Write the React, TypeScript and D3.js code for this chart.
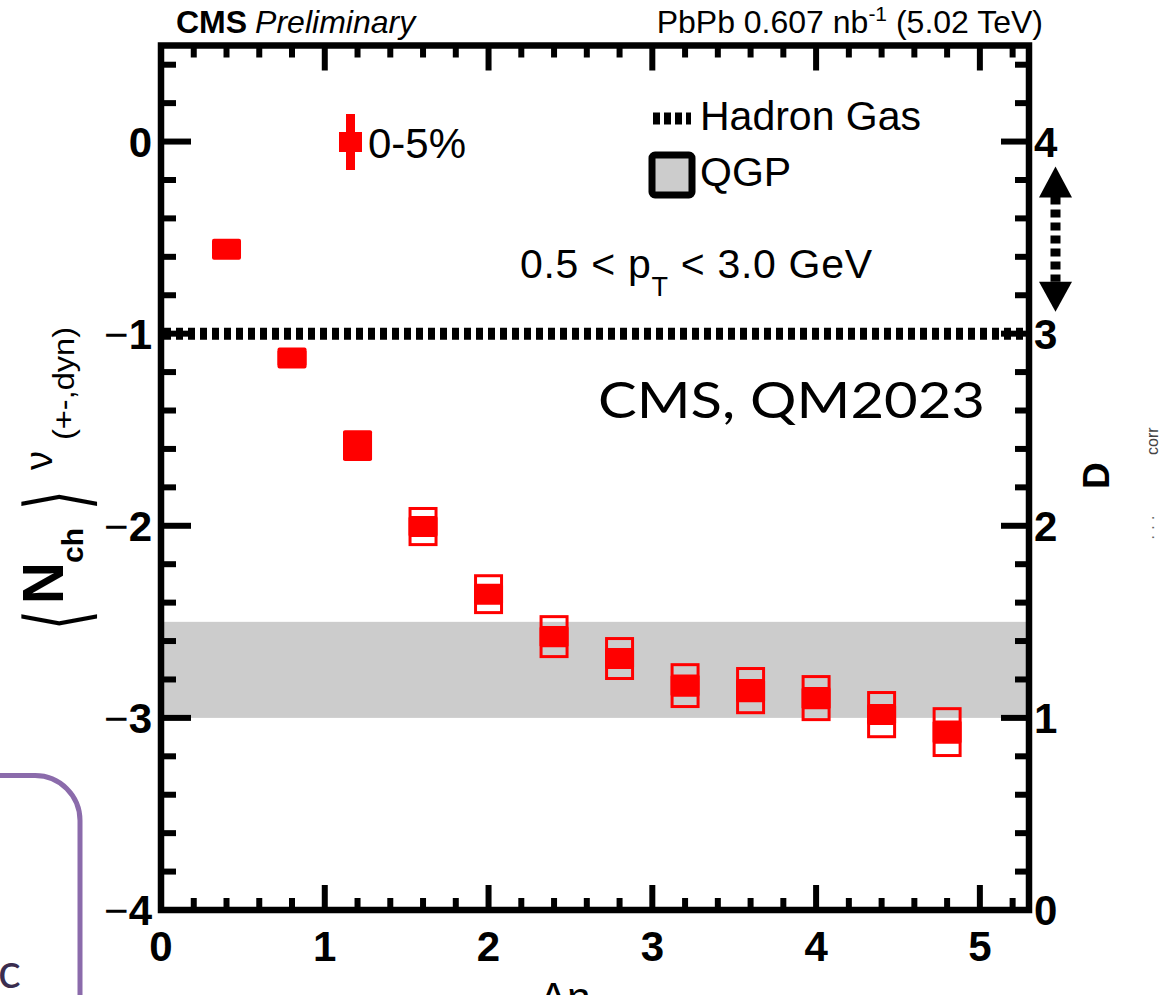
import React from 'react';
import * as d3 from 'd3';

const W = 1168;
const H = 995;

// data
const deltaEta = [0.4, 0.8, 1.2, 1.6, 2.0, 2.4, 2.8, 3.2, 3.6, 4.0, 4.4, 4.8];
const nuDyn = [-0.56, -1.127, -1.583, -2.004, -2.356, -2.577, -2.691, -2.832, -2.858, -2.897, -2.983, -3.074];
const statErr = [0.05, 0.05, 0.08, 0.05, 0.052, 0.055, 0.055, 0.058, 0.06, 0.058, 0.053, 0.06];
const sysErr = [0.03, 0.03, 0.066, 0.094, 0.096, 0.104, 0.104, 0.109, 0.115, 0.112, 0.115, 0.122];
const hadronGasValue = -1;
const qgpBand = [-3.0, -2.5];
const arrowRangeD = [3.0, 4.0];

const xTickValues = [0, 1, 2, 3, 4, 5];
const xTickLabels = ['0', '1', '2', '3', '4', '5'];
const yTickValues = [-4, -3, -2, -1, 0];
const yTickLabels = ['4', '3', '2', '1', '0'];
const dTickValues = [0, 1, 2, 3, 4];
const dTickLabels = ['0', '1', '2', '3', '4'];

const FONT = "'Liberation Sans', Arial, Helvetica, sans-serif";
const RED = '#ff0000';

export default function App() {
  const x = d3.scaleLinear().domain([0, 5.3]).range([161, 1029]);
  const y = d3.scaleLinear().domain([-4, 0.5]).range([910, 45.5]);
  const yD = d3.scaleLinear().domain([0, 4.5]).range([910, 45.5]);

  const x0 = x(0), x1 = x(5.3), yTop = y(0.5), yBot = y(-4);
  const isMajor = (v: number) => Math.abs(v - Math.round(v)) < 1e-6;
  const xMinor = d3.range(0, 5.25, 0.2);
  const yMinor = d3.range(-4, 0.45, 0.2);
  const dMinor = d3.range(0, 4.45, 0.2);
  const k = y(0) - y(1);

  // double arrow between D=3 and D=4
  const ax = 1055.5;
  const aTop = yD(arrowRangeD[1]) + 25;
  const aBot = yD(arrowRangeD[0]) - 22;

  return (
    <svg width={W} height={H} style={{ position: 'absolute', left: 0, top: 0, background: '#fff' }} fontFamily={FONT}>
      <rect x={0} y={0} width={W} height={H} fill="#fff" />
      {/* header */}
      <text x={176} y={33} fontSize={32} fill="#000">
        <tspan fontWeight="bold">CMS</tspan>
        <tspan dx={8} fontStyle="italic">Preliminary</tspan>
      </text>
      <text x={1043} y={33} fontSize={32} textAnchor="end" fill="#000">
        PbPb 0.607 nb<tspan dy={-12} fontSize={21}>-1</tspan><tspan dy={12}> (5.02 TeV)</tspan>
      </text>

      {/* QGP band */}
      <rect x={x0} y={y(qgpBand[1])} width={x1 - x0} height={y(qgpBand[0]) - y(qgpBand[1])} fill="#cccccc" />
      {/* Hadron gas line */}
      <line x1={x0 + 3} x2={x1} y1={y(hadronGasValue)} y2={y(hadronGasValue)} stroke="#000" strokeWidth={12} strokeDasharray="7 5" />

      {/* data */}
      {deltaEta.map((d, i) => {
        const cx = x(d);
        const cy = y(nuDyn[i]);
        const sTop = y(nuDyn[i] + sysErr[i]);
        const sBot = y(nuDyn[i] - sysErr[i]);
        const mh = Math.max(21, 2 * statErr[i] * k);
        return (
          <g key={i}>
            <rect x={cx - 13} y={sTop} width={26} height={sBot - sTop} fill="none" stroke={RED} strokeWidth={3} />
            <rect x={cx - 14.5} y={cy - mh / 2} width={29} height={mh} fill={RED} rx={2} />
          </g>
        );
      })}

      {/* ticks */}
      {xMinor.map((v, i) => {
        const len = isMajor(v) ? 25 : 12;
        return (
          <g key={'xt' + i}>
            <line x1={x(v)} x2={x(v)} y1={yBot} y2={yBot - len} stroke="#000" strokeWidth={6} />
            <line x1={x(v)} x2={x(v)} y1={yTop} y2={yTop + len} stroke="#000" strokeWidth={6} />
          </g>
        );
      })}
      {yMinor.map((v, i) => {
        const len = isMajor(v) ? 30 : 15;
        return <line key={'yt' + i} x1={x0} x2={x0 + len} y1={y(v)} y2={y(v)} stroke="#000" strokeWidth={6} />;
      })}
      {dMinor.map((v, i) => {
        const len = isMajor(v) ? 28 : 14;
        return <line key={'dt' + i} x1={x1} x2={x1 - len} y1={yD(v)} y2={yD(v)} stroke="#000" strokeWidth={6} />;
      })}
      {/* frame */}
      <rect x={x0} y={yTop} width={x1 - x0} height={yBot - yTop} fill="none" stroke="#000" strokeWidth={6.5} />

      {/* tick labels */}
      {xTickValues.map((v, i) => (
        <text key={'xl' + i} x={x(v)} y={961} fontSize={42} fontWeight="bold" textAnchor="middle">{xTickLabels[i]}</text>
      ))}
      {yTickValues.map((v, i) => (
        <text key={'yl' + i} x={152} y={y(v) + 15} fontSize={42} fontWeight="bold" textAnchor="end">
          {v < 0 ? <tspan fontWeight="normal">{'\u2212'}</tspan> : null}{yTickLabels[i]}
        </text>
      ))}
      {dTickValues.map((v, i) => (
        <text key={'dl' + i} x={1034} y={yD(v) + 15} fontSize={42} fontWeight="bold" textAnchor="start">{dTickLabels[i]}</text>
      ))}

      {/* dotted double arrow on the D axis */}
      <line x1={ax} x2={ax} y1={aTop + 30} y2={aBot - 30} stroke="#000" strokeWidth={10} strokeDasharray="8 5" />
      <path d={`M${ax},${aTop} L${ax + 16.5},${aTop + 31} L${ax - 16.5},${aTop + 31} Z`} fill="#000" />
      <path d={`M${ax},${aBot} L${ax + 16.5},${aBot - 30} L${ax - 16.5},${aBot - 30} Z`} fill="#000" />

      {/* legend */}
      <line x1={350.5} x2={350.5} y1={114} y2={170} stroke={RED} strokeWidth={9} />
      <rect x={339} y={132} width={23} height={20} fill={RED} />
      <text x={368} y={158} fontSize={42}>0-5%</text>
      <line x1={653} x2={691} y1={118.5} y2={118.5} stroke="#000" strokeWidth={12} strokeDasharray="7 4" />
      <text x={700} y={130} fontSize={41}>Hadron Gas</text>
      <rect x={652} y={155} width={40} height={40} rx={3} fill="#cccccc" stroke="#000" strokeWidth={7} />
      <text x={700} y={186} fontSize={41}>QGP</text>
      <text x={520} y={278} fontSize={41} textLength={352} lengthAdjust="spacing">
        0.5 &lt; p<tspan dy={18} fontSize={27}>T</tspan><tspan dy={-18}> &lt; 3.0 GeV</tspan>
      </text>
      <text x={598} y={418} fontSize={50} fontFamily="Lato, 'Open Sans', sans-serif" textLength={387} lengthAdjust="spacingAndGlyphs">CMS, QM2023</text>

      {/* y title */}
      <text transform="translate(86,630) rotate(-90) scale(0.6,1)" fontSize={85} fontFamily="'DejaVu Sans', sans-serif">⟨</text>
      <text transform="translate(63,604) rotate(-90)" fontSize={58} fontWeight="bold">N</text>
      <text transform="translate(83,563) rotate(-90)" fontSize={30} fontWeight="bold">ch</text>
      <text transform="translate(86,510) rotate(-90) scale(0.6,1)" fontSize={85} fontFamily="'DejaVu Sans', sans-serif">⟩</text>
      <text transform="translate(52,470) rotate(-90)" fontSize={38}>ν</text>
      <text transform="translate(74,440) rotate(-90)" fontSize={30} textLength={113} lengthAdjust="spacingAndGlyphs">(+-,dyn)</text>

      {/* right title */}
      <text transform="translate(1109,489) rotate(-90)" fontSize={37} fontWeight="bold">D</text>
      <text transform="translate(1158,455) rotate(-90)" fontSize={16} fill="#444">corr</text>
      <text transform="translate(1158,540) rotate(-90)" fontSize={16} fill="#666">· ·  ·</text>

      {/* x title (cut off by the picture edge, as in the reference) */}
      <text x={565} y={1012} fontSize={42} textAnchor="middle">Δη</text>

      {/* purple frame at bottom-left */}
      <rect x={-60} y={775.5} width={140} height={320} rx={45} fill="none" stroke="#8b6bab" strokeWidth={5} />
      <text x={-2} y={988} fontSize={48} fontFamily="Lato, 'Open Sans', sans-serif" fill="#3a2d4f">c</text>
    </svg>
  );
}
